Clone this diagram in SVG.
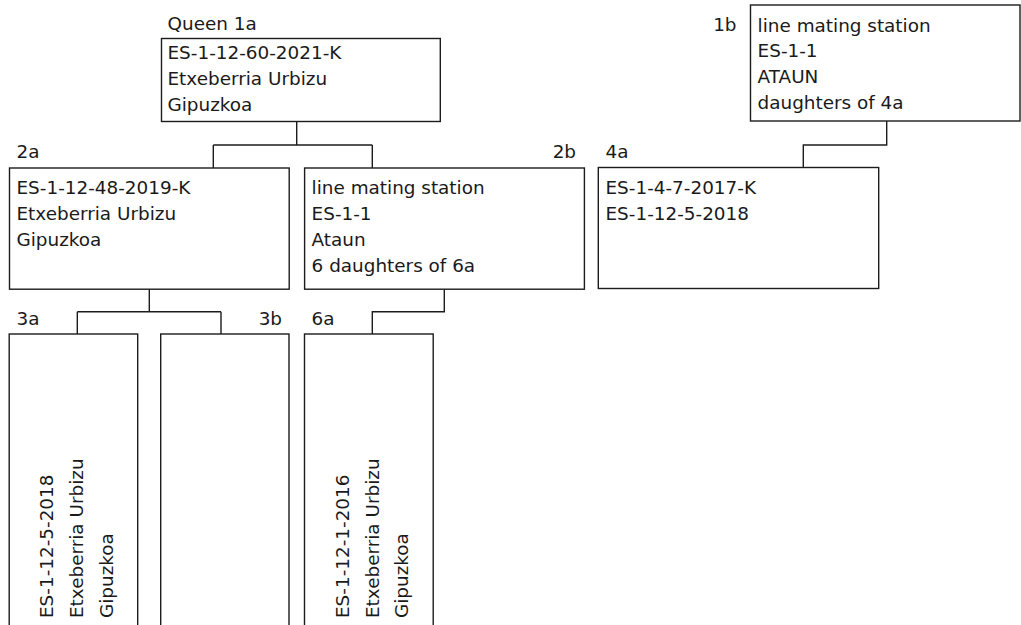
<svg xmlns="http://www.w3.org/2000/svg" width="1021" height="625" viewBox="0 0 1021 625">
<style>
.box{fill:#fff;stroke:#1c1c1c;stroke-width:1.4}
.t{font-family:"DejaVu Sans",sans-serif;font-size:18.4px;fill:#1a1a1a}
.e{text-anchor:end}
.c{fill:none;stroke:#1c1c1c;stroke-width:1.4}
</style>
<rect width="1021" height="625" fill="#fff"/>
<g id="connectors">
<path class="c" d="M296.7,121.5V145M213.3,145H372.3M213.3,145V168M372.3,145V168"/>
<path class="c" d="M149.3,289.2V311.7M77.3,311.7H221M77.3,311.7V334M221,311.7V334"/>
<path class="c" d="M444.3,289.2V311.7H372.3V334"/>
<path class="c" d="M886.7,121V145H803.3V168"/>
</g>
<g id="queen1a">
<rect class="box" x="161.5" y="38.5" width="278.8" height="83"/>
<text class="t" x="167.5" y="29.5">Queen 1a</text>
<text class="t" x="167.5" y="59">ES-1-12-60-2021-K</text>
<text class="t" x="167.5" y="85">Etxeberria Urbizu</text>
<text class="t" x="167.5" y="110.8">Gipuzkoa</text>
</g>
<g id="node1b">
<rect class="box" x="750.5" y="5" width="269.5" height="116"/>
<text class="t e" x="736.5" y="30.5">1b</text>
<text class="t" x="757.6" y="31.5">line mating station</text>
<text class="t" x="757.6" y="57.3">ES-1-1</text>
<text class="t" x="757.6" y="83.3">ATAUN</text>
<text class="t" x="757.6" y="109.3">daughters of 4a</text>
</g>
<g id="node2a">
<rect class="box" x="9.5" y="168" width="279.7" height="121.2"/>
<text class="t" x="16.5" y="157.5">2a</text>
<text class="t" x="16.5" y="193.5">ES-1-12-48-2019-K</text>
<text class="t" x="16.5" y="219.7">Etxeberria Urbizu</text>
<text class="t" x="16.5" y="245.9">Gipuzkoa</text>
</g>
<g id="node2b">
<rect class="box" x="304.6" y="168" width="279.8" height="121.2"/>
<text class="t e" x="576" y="157.5">2b</text>
<text class="t" x="311.6" y="193.5">line mating station</text>
<text class="t" x="311.6" y="219.7">ES-1-1</text>
<text class="t" x="311.6" y="245.9">Ataun</text>
<text class="t" x="311.6" y="272.1">6 daughters of 6a</text>
</g>
<g id="node4a">
<rect class="box" x="598.3" y="167.5" width="280.4" height="121"/>
<text class="t" x="605.5" y="157.5">4a</text>
<text class="t" x="605.5" y="193.5">ES-1-4-7-2017-K</text>
<text class="t" x="605.5" y="219.7">ES-1-12-5-2018</text>
</g>
<g id="node3a">
<rect class="box" x="9.2" y="334" width="128.5" height="310"/>
<text class="t" x="16.5" y="325">3a</text>
<text class="t" transform="translate(53,618) rotate(-90)">ES-1-12-5-2018</text>
<text class="t" transform="translate(83,618) rotate(-90)">Etxeberria Urbizu</text>
<text class="t" transform="translate(112.5,618) rotate(-90)">Gipuzkoa</text>
</g>
<g id="node3b">
<rect class="box" x="160.7" y="334" width="128.3" height="310"/>
<text class="t e" x="282" y="325">3b</text>
</g>
<g id="node6a">
<rect class="box" x="304.5" y="334" width="128.7" height="310"/>
<text class="t" x="311.5" y="325">6a</text>
<text class="t" transform="translate(348.5,618) rotate(-90)">ES-1-12-1-2016</text>
<text class="t" transform="translate(378.5,618) rotate(-90)">Etxeberria Urbizu</text>
<text class="t" transform="translate(408,618) rotate(-90)">Gipuzkoa</text>
</g>
</svg>
